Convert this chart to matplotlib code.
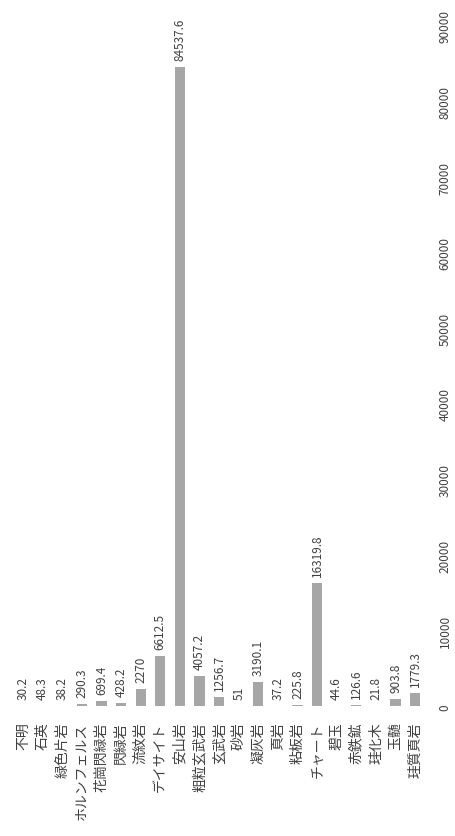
import matplotlib
matplotlib.use("Agg")
import matplotlib.pyplot as plt

plt.rcParams['font.family'] = ['Noto Sans CJK JP', 'DejaVu Sans']

# rock types and total weight per type
rocks = ["不明", "石英", "緑色片岩", "ホルンフェルス", "花崗閃緑岩", "閃緑岩", "流紋岩",
         "デイサイト", "安山岩", "粗粒玄武岩", "玄武岩", "砂岩", "凝灰岩", "頁岩",
         "粘板岩", "チャート", "碧玉", "赤鉄鉱", "珪化木", "玉髄", "珪質頁岩"]
weights = [30.2, 48.3, 38.2, 290.3, 699.4, 428.2, 2270, 6612.5, 84537.6, 4057.2,
           1256.7, 51, 3190.1, 37.2, 225.8, 16319.8, 44.6, 126.6, 21.8, 903.8, 1779.3]
value_ticks = [0, 10000, 20000, 30000, 40000, 50000, 60000, 70000, 80000, 90000]

TEXT = "#404040"

fig = plt.figure(figsize=(4.55, 8.37), dpi=100)
ax = fig.add_axes([0.029, 0.155, 0.905, 0.813])

x = list(range(len(rocks)))
bars = ax.bar(x, weights, width=0.52, color="#a6a6a6")

labels = [f"{w:g}" for w in weights]
ax.bar_label(bars, labels=labels, rotation=90, padding=5, fontsize=8.5, color=TEXT)

ax.set_xlim(-0.5, len(rocks) - 0.5)
ax.set_ylim(0, 90000)
ax.set_xticks(x)
ax.set_xticklabels(rocks, rotation=90, fontsize=10, color=TEXT, va="top")
ax.set_yticks(value_ticks)
ax.set_yticklabels([str(v) for v in value_ticks], rotation=90, fontsize=8.5,
                   color=TEXT, va="center")
ax.yaxis.tick_right()
ax.tick_params(axis="x", length=0, pad=11)
ax.tick_params(axis="y", length=0, pad=10)
for s in ax.spines.values():
    s.set_visible(False)

fig.savefig("out.png", dpi=100, facecolor="white")
